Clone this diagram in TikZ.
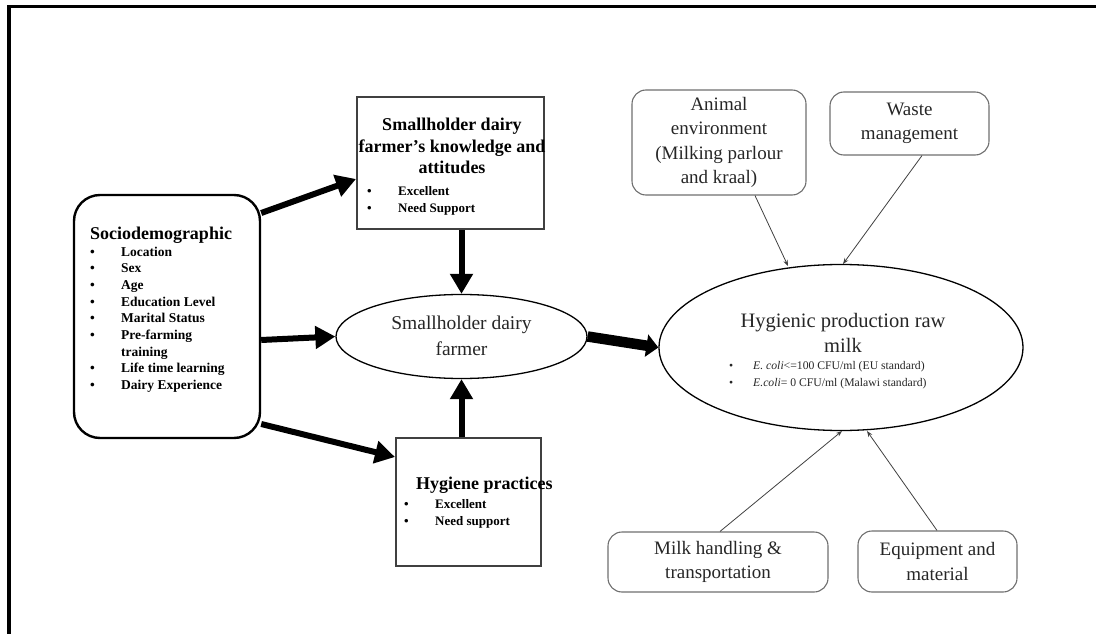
\documentclass[tikz,border=0pt]{standalone}
\usepackage{fontspec}
\setmainfont{Liberation Serif}
\usetikzlibrary{arrows.meta,shapes.geometric}
\definecolor{txt}{HTML}{262626}
\definecolor{boxgray}{HTML}{6E6E6E}
\newcommand\blt[1]{\makebox[#1][l]{\textbullet}}
\begin{document}
\begin{tikzpicture}[x=1pt,y=-1pt,
  thickarrow/.style={line width=6pt,-{Triangle[length=20pt,width=22pt]}},
  bigarrow/.style={line width=10.5pt,-{Triangle[length=12pt,width=22pt]}},
  thinarrow/.style={line width=0.8pt,draw=black!75,-{Stealth[length=6pt,width=4.5pt]}},
  graybox/.style={draw=boxgray,line width=1.1pt,rounded corners=14pt,inner sep=0pt,
    align=center,text=txt,font=\fontsize{19}{24.5}\selectfont},
  sqbox/.style={draw=black!75,line width=2pt,inner sep=0pt},
  oval/.style={ellipse,draw=black,line width=1.3pt,inner sep=0pt}]
\useasboundingbox (0,0) rectangle (1096,634);
% frame
\draw[line width=3.5pt] (9,634) -- (9,6.5) -- (1096,6.5);

% sociodemographic
\node[draw=black,line width=2.4pt,rounded corners=26pt,minimum width=186pt,minimum height=243pt,inner sep=0pt] (socio) at (167,316.5) {};
\node[font=\bfseries\fontsize{18}{20}\selectfont,inner sep=0pt] (sociotitle) at (161,235) {Sociodemographic};
\node[anchor=north west,align=left,inner sep=0pt,font=\bfseries\fontsize{13.5}{16.7}\selectfont] (sociolist) at (90,246.5)
{\blt{31pt}Location\\ \blt{31pt}Sex\\ \blt{31pt}Age\\ \blt{31pt}Education Level\\ \blt{31pt}Marital Status\\
 \blt{31pt}Pre-farming\\ \hspace*{31pt}training\\ \blt{31pt}Life time learning\\ \blt{31pt}Dairy Experience};

% knowledge box
\node[sqbox,minimum width=187pt,minimum height=132pt] (know) at (450.5,163) {};
\node[font=\bfseries\fontsize{18}{21.5}\selectfont,align=center,inner sep=0pt] (knowtitle) at (452,146) {Smallholder dairy\\farmer's knowledge and\\attitudes};
\node[anchor=north west,align=left,inner sep=0pt,font=\bfseries\fontsize{13}{17}\selectfont] (knowlist) at (367,186)
{\blt{31pt}Excellent\\ \blt{31pt}Need Support};

% hygiene box
\node[sqbox,minimum width=145pt,minimum height=128pt] (hyg) at (468.5,502) {};
\node[anchor=west,font=\bfseries\fontsize{18}{20}\selectfont,inner sep=0pt] (hygtitle) at (416,485) {Hygiene practices};
\node[anchor=north west,align=left,inner sep=0pt,font=\bfseries\fontsize{13}{17}\selectfont] (hyglist) at (404,499)
{\blt{31pt}Excellent\\ \blt{31pt}Need support};

% smallholder ellipse
\node[oval,minimum width=251pt,minimum height=84pt] (small) at (461.5,336.5) {};
\node[align=center,text=txt,font=\fontsize{19.5}{26}\selectfont,inner sep=0pt] (smalltext) at (461.5,336) {Smallholder dairy\\farmer};

% hygienic ellipse
\node[oval,minimum width=364pt,minimum height=166pt] (milk) at (841,347.5) {};
\node[align=center,text=txt,font=\fontsize{20.5}{25}\selectfont,inner sep=0pt] (milktitle) at (843,333) {Hygienic production raw\\milk};
\node[anchor=north west,align=left,inner sep=0pt,text=txt,font=\fontsize{11.7}{17}\selectfont] (milklist) at (729,361.5)
{\blt{24pt}\textit{E. coli}<=100 CFU/ml (EU standard)\\ \blt{24pt}\textit{E.coli}= 0 CFU/ml (Malawi standard)};

% gray boxes
\node[graybox,minimum width=174pt,minimum height=105pt] (animal) at (719,142.5) {Animal\\environment\\(Milking parlour\\and kraal)};
\node[graybox,minimum width=159pt,minimum height=63pt] (waste) at (909.5,123.5) {Waste\\management};
\node[graybox,minimum width=220pt,minimum height=60pt] (handling) at (718,562) {Milk handling \&\\transportation};
\node[graybox,minimum width=159pt,minimum height=61pt] (equip) at (937.5,561.5) {Equipment and\\material};

% thick arrows
\draw[thickarrow] (socio.east |- 0,213) -- (know.west |- 0,179);
\draw[thickarrow] (socio.east |- 0,340) -- (small.west);
\draw[thickarrow] (socio.east |- 0,424) -- (hyg.west |- 0,457);
\draw[thickarrow] (small.north |- know.south) -- (small.north);
\draw[thickarrow] (small.south |- hyg.north) -- (small.south);
\draw[bigarrow] (small.east) -- (milk.west);

% thin arrows
\coordinate (a1) at (755,196);
\coordinate (a2) at (922,155);
\coordinate (a3) at (720,532);
\coordinate (a4) at (937,531);
\draw[thinarrow] (animal.south -| a1) -- (788,266);
\draw[thinarrow] (waste.south -| a2) -- (843,264);
\draw[thinarrow] (handling.north -| a3) -- (842,431);
\draw[thinarrow] (equip.north -| a4) -- (867,431);
\end{tikzpicture}
\end{document}
